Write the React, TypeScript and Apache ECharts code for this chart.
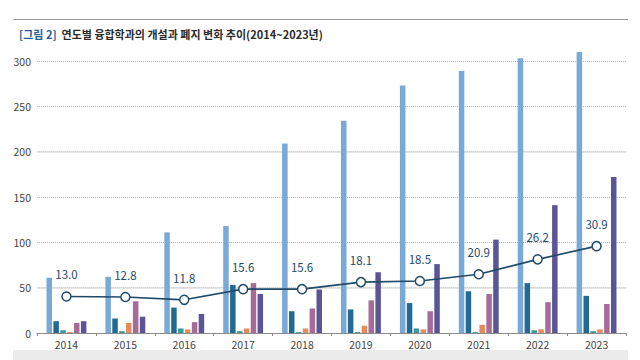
import React, { useEffect, useRef } from "react";
import * as echarts from "echarts";

const years = ["2014", "2015", "2016", "2017", "2018", "2019", "2020", "2021", "2022", "2023"];
const seriesNames = ["전체", "신설", "통합", "분리", "변경", "폐지"];
const s1 = [61, 62, 111, 118, 209, 234, 273, 289, 303, 310];
const s2 = [13, 16, 28, 53, 24, 26, 33, 46, 55, 41];
const s3 = [3, 2, 5, 2, 1, 1, 5, 1, 3, 2];
const s4 = [1, 11, 4, 5, 5, 8, 4, 9, 4, 4];
const s5 = [11, 35, 12, 55, 27, 36, 24, 43, 34, 32];
const s6 = [13, 18, 21, 43, 48, 67, 76, 103, 141, 172];
const lineName = "비율(%)";
const ratio = [13.0, 12.8, 11.8, 15.6, 15.6, 18.1, 18.5, 20.9, 26.2, 30.9];
const yTicks = [0, 50, 100, 150, 200, 250, 300];

const colors = ["#78a9d7", "#226a92", "#3a999b", "#e58b5c", "#a66b99", "#5b5595"];

export default function App() {
  const ref = useRef<HTMLDivElement>(null);
  useEffect(() => {
    if (!ref.current) return;
    const chart = echarts.init(ref.current, null, { renderer: "svg" });
    const barData = [s1, s2, s3, s4, s5, s6];
    const bars = barData.map((d, i) => ({
      name: seriesNames[i],
      type: "bar",
      data: d,
      barWidth: 5.5,
      barGap: "25%",
      clip: false,
      itemStyle: { color: colors[i] },
      z: 2,
      ...(i === 0
        ? {
            markLine: {
              silent: true,
              symbol: "none",
              label: { show: false },
              lineStyle: { type: "solid", color: "#dcdcdc", width: 1.5 },
              data: [{ yAxis: yTicks[1] }, { yAxis: yTicks[4] }],
              z: 1,
            },
          }
        : {}),
    }));
    chart.setOption({
      animation: false,
      textStyle: { fontFamily: "Noto Sans CJK KR, Noto Sans, sans-serif" },
      title: {
        text: "{a|[그림 2]}  연도별 융합학과의 개설과 폐지 변화 추이(2014~2023년)",
        left: 14,
        top: 23,
        textStyle: {
          fontSize: 11,
          fontWeight: "bold",
          color: "#2b2b2b",
          rich: { a: { fontSize: 11, fontWeight: "bold", color: "#1f5d9c" } },
        },
      },
      graphic: [
        {
          type: "line",
          shape: { x1: 13, y1: 19.5, x2: 628, y2: 19.5 },
          style: { stroke: "#9a9a9a", lineWidth: 1 },
        },
        {
          type: "rect",
          shape: { x: 13, y: 350, width: 615, height: 10 },
          style: { fill: "#ebebeb" },
          z: 0,
        },
      ],
      legend: {
        left: 221,
        top: 355,
        itemWidth: 8,
        itemHeight: 8,
        itemGap: 2,
        z: 10,
        textStyle: { fontSize: 8, color: "#444" },
        data: [...seriesNames, lineName],
      },
      grid: { left: 37, right: 14, top: 61, bottom: 27, containLabel: false },
      xAxis: {
        type: "category",
        data: years,
        axisLine: { lineStyle: { color: "#8a8a8a" } },
        axisTick: { show: true, length: 3, lineStyle: { color: "#8a8a8a" } },
        axisLabel: { fontSize: 10.5, color: "#444", margin: 6 },
      },
      yAxis: [
        {
          type: "value",
          min: 0,
          max: 300,
          interval: 50,
          axisLine: { show: false },
          axisTick: { show: false },
          axisLabel: { fontSize: 10.5, color: "#444", margin: 6 },
          splitLine: { lineStyle: { type: [1, 1], color: "#b5b5b5", width: 1 } },
        },
        {
          type: "value",
          min: 0,
          max: 96.77,
          show: false,
          splitLine: { show: false },
        },
      ],
      series: [
        ...bars,
        {
          name: lineName,
          type: "line",
          yAxisIndex: 1,
          data: ratio,
          z: 5,
          symbol: "circle",
          symbolSize: 9,
          lineStyle: { color: "#1f4a69", width: 1.6 },
          itemStyle: { color: "#ffffff", borderColor: "#1f4a69", borderWidth: 1.5 },
          label: {
            show: true,
            position: "top",
            distance: 11,
            fontSize: 11.5,
            color: "#24486a",
            formatter: (p: any) => p.value.toFixed(1),
          },
        },
      ],
    });
    return () => chart.dispose();
  }, []);
  return <div ref={ref} style={{ width: 640, height: 360, position: "absolute", left: 0, top: 0 }} />;
}
